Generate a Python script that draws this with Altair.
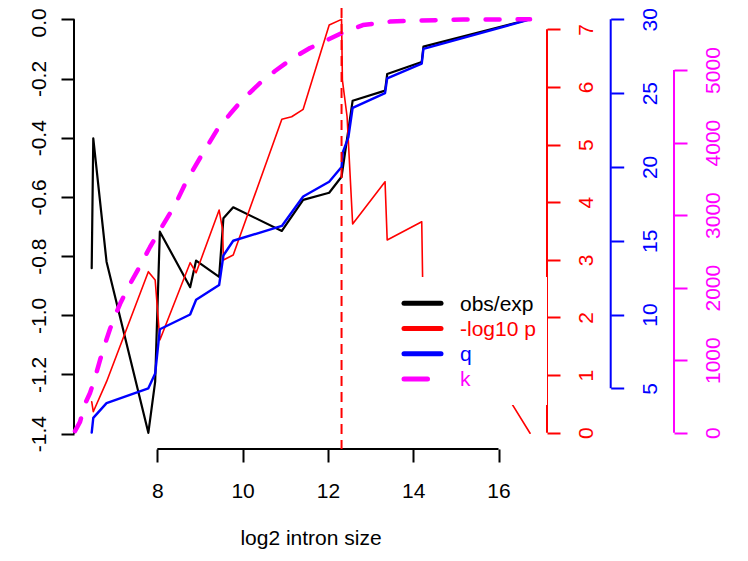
import altair as alt
import pandas as pd

FONT = "Liberation Sans"
FS = 21

# ---------------- data ----------------
x_obs = [6.462, 6.499, 6.81, 7.79, 7.95, 8.06, 8.77, 8.91, 9.45, 9.55, 9.78,
         10.92, 11.42, 12.03, 12.32, 12.58, 13.34, 13.39, 14.20, 14.24, 16.74]
obs_exp = [-0.841, -0.402, -0.819, -1.397, -1.224, -0.7175, -0.905, -0.815, -0.870, -0.672, -0.635,
           -0.715, -0.610, -0.586, -0.532, -0.275, -0.241, -0.185, -0.144, -0.0925, 0.0]

x_p = [6.462, 6.499, 6.81, 7.79, 7.95, 8.06, 8.77, 8.91, 9.45, 9.53, 9.55, 9.78,
       10.92, 11.15, 11.42, 12.03, 12.32, 12.34, 12.45, 12.58, 13.34, 13.39,
       14.20, 14.22, 14.24, 16.20, 16.74]
neglog10p = [0.538, 0.364, 0.885, 2.794, 2.65, 1.609, 2.95, 2.776, 3.864, 3.529, 2.997, 3.083,
             5.438, 5.483, 5.612, 7.074, 7.173, 6.12, 5.483, 3.621, 4.355, 3.344,
             3.661, 2.707, 1.30, 0.637, -0.01]

x_q = [6.462, 6.499, 6.81, 7.79, 7.95, 8.06, 8.77, 8.91, 9.45, 9.55, 9.78,
       10.92, 11.42, 12.03, 12.32, 12.35, 12.48, 12.58, 13.34, 13.39, 14.20, 14.24, 16.74]
q = [2, 3, 4, 5, 6, 9, 10, 11, 12, 14, 15,
     16, 18, 19, 20, 21, 22, 24, 25, 26, 27, 28, 30]

x_k = [6.070, 6.188, 6.305, 6.422, 6.539, 6.657, 6.774, 6.891, 7.008, 7.125, 7.360, 7.594,
       7.829, 8.063, 8.415, 8.696, 9.001, 9.400, 9.705, 9.986, 10.41, 10.76, 11.18, 11.58,
       11.98, 12.33, 12.82, 13.46, 14.00, 15.17, 16.74]
k = [23, 148, 396, 547, 754, 1002, 1223, 1430, 1609, 1774, 2050, 2298,
     2560, 2794, 3139, 3483, 3787, 4173, 4393, 4586, 4821, 4986, 5165, 5303,
     5413, 5510, 5620, 5668, 5679, 5696, 5699]

threshold_x = [12.32]

x_ticks = [8, 10, 12, 14, 16]
left_ticks = [-1.4, -1.2, -1.0, -0.8, -0.6, -0.4, -0.2, 0.0]
red_ticks = [0, 1, 2, 3, 4, 5, 6, 7]
blue_ticks = [5, 10, 15, 20, 25, 30]
mag_ticks = [0, 1000, 2000, 3000, 4000, 5000]

legend_labels = ["obs/exp", "-log10 p", "q", "k"]
legend_colors = ["black", "red", "blue", "magenta"]

# ---------------- layout ----------------
W, H = 473, 441
XDOM = [6.047, 17.137]
YDOM_LEFT = [-1.4517, 0.0382]
YDOM_RED = [-0.283, 7.370]
YDOM_BLUE = [0.888, 30.77]
YDOM_MAG = [-224.7, 5855]
OFF_BLUE = 63.7
OFF_MAG = 127

df_obs = pd.DataFrame({"x": x_obs, "v": obs_exp, "i": range(len(x_obs))})
df_p = pd.DataFrame({"x": x_p, "v": neglog10p, "i": range(len(x_p))})
df_q = pd.DataFrame({"x": x_q, "v": q, "i": range(len(x_q))})
df_k = pd.DataFrame({"x": x_k, "v": k, "i": range(len(x_k))})

x_axis = alt.Axis(values=x_ticks, orient="bottom", domain=False, grid=False,
                  tickSize=13, tickWidth=2, tickColor="black",
                  labelFont=FONT, labelFontSize=FS, labelColor="black", labelAngle=0,
                  labelAlign="center", labelBaseline="top", labelPadding=18,
                  labelFlush=False, labelOverlap=False, format="d",
                  title="log2 intron size", titleFont=FONT, titleFontSize=FS,
                  titleFontWeight="normal", titleColor="black", titleX=W / 2, titleY=95.3,
                  titleAlign="center", titleBaseline="alphabetic", titleAngle=0)
xs = alt.Scale(domain=XDOM, nice=False, zero=False)
X = alt.X("x:Q", scale=xs, axis=x_axis)


def yaxis(vals, color, orient, offset=0, expr=None, label_offset=0):
    kw = dict(values=vals, orient=orient, offset=offset, domain=False, grid=False,
              tickSize=13, tickWidth=2, tickColor=color,
              labelFont=FONT, labelFontSize=FS, labelColor=color, labelAngle=270,
              labelAlign="center", labelBaseline="alphabetic" if orient == "left" else "top",
              labelPadding=15.5, labelFlush=False, labelOverlap=False, title=None,
              labelOffset=label_offset)
    if expr:
        kw["labelExpr"] = expr
    else:
        kw["format"] = "d"
    return alt.Axis(**kw)


left_expr = ("datum.value < -0.001 ? '-' + format(-datum.value, '.1f') "
             ": format(abs(datum.value), '.1f')")
# keep the top label ("0.0") inside the page
top_label_nudge = {"condition": {"test": "datum.value > -0.1", "value": 3}, "value": 0}


def series(df, dom, axis, color, width, dash=None, cap="round"):
    kw = dict(color=color, strokeWidth=width, strokeJoin="round", strokeCap=cap)
    if dash:
        kw["strokeDash"] = dash
    return alt.Chart(df).mark_line(**kw).encode(
        x=X,
        y=alt.Y("v:Q", scale=alt.Scale(domain=dom, nice=False, zero=False), axis=axis),
        order="i:Q",
    )


def axis_line(lo, hi, dom, axis, color, xpos):
    d = pd.DataFrame({"lo": [lo], "hi": [hi]})
    return alt.Chart(d).mark_rule(color=color, strokeWidth=2).encode(
        x=alt.value(xpos),
        y=alt.Y("lo:Q", scale=alt.Scale(domain=dom, nice=False, zero=False), axis=axis),
        y2="hi:Q",
    )


ax_left = yaxis(left_ticks, "black", "left", 0, left_expr, top_label_nudge)
ax_red = yaxis(red_ticks, "red", "right", 0)
ax_blue = yaxis(blue_ticks, "blue", "right", OFF_BLUE)
ax_mag = yaxis(mag_ticks, "magenta", "right", OFF_MAG)

black = series(df_obs, YDOM_LEFT, ax_left, "black", 2.2)
red = series(df_p, YDOM_RED, ax_red, "red", 1.6)
blue = series(df_q, YDOM_BLUE, ax_blue, "blue", 2.4)
mag = series(df_k, YDOM_MAG, ax_mag, "magenta", 4.5, dash=[14, 18])

xline = alt.Chart(pd.DataFrame({"x": [min(x_ticks)], "b": [max(x_ticks)]})).mark_rule(
    color="black", strokeWidth=2).encode(
    x=X, x2="b:Q", y=alt.value(H))

g_black = alt.layer(black, axis_line(min(left_ticks), max(left_ticks), YDOM_LEFT, ax_left, "black", 0), xline)
g_red = alt.layer(red, axis_line(min(red_ticks), max(red_ticks), YDOM_RED, ax_red, "red", W))
g_blue = alt.layer(blue, axis_line(min(blue_ticks), max(blue_ticks), YDOM_BLUE, ax_blue, "blue", W + OFF_BLUE))
g_mag = alt.layer(mag, axis_line(min(mag_ticks), max(mag_ticks), YDOM_MAG, ax_mag, "magenta", W + OFF_MAG))

vline = alt.Chart(pd.DataFrame({"x": threshold_x})).mark_rule(
    color="red", strokeWidth=2, strokeDash=[10, 6]).encode(x=X)

# ---------------- legend ----------------
leg_layers = [
    alt.Chart(pd.DataFrame({"a": [0]})).mark_rect(color="white").encode(
        x=alt.value(317), x2=alt.value(473), y=alt.value(269), y2=alt.value(397))
]
for i, (lab, col) in enumerate(zip(legend_labels, legend_colors)):
    ly = 295.3 + i * 25.2
    x_end = 353.5 if lab == "k" else 367
    leg_layers.append(
        alt.Chart(pd.DataFrame({"label": [lab]})).mark_rule(
            color=col, strokeWidth=5, strokeCap="round").encode(
            x=alt.value(330), x2=alt.value(x_end), y=alt.value(ly)))
    leg_layers.append(
        alt.Chart(pd.DataFrame({"label": [lab]})).mark_text(
            align="left", baseline="alphabetic", font=FONT, fontSize=FS, color=col).encode(
            x=alt.value(386), y=alt.value(ly + 7.4), text="label:N"))

chart = alt.layer(g_black, g_red, g_blue, g_mag, vline, *leg_layers).resolve_scale(
    y="independent"
).properties(
    width=W, height=H,
    padding={"left": 66, "top": 0, "right": 193, "bottom": 104},
    autosize=alt.AutoSizeParams(type="none"),
).configure_view(stroke=None)

chart.save("out.html", embed_options={"renderer": "svg", "actions": False})
